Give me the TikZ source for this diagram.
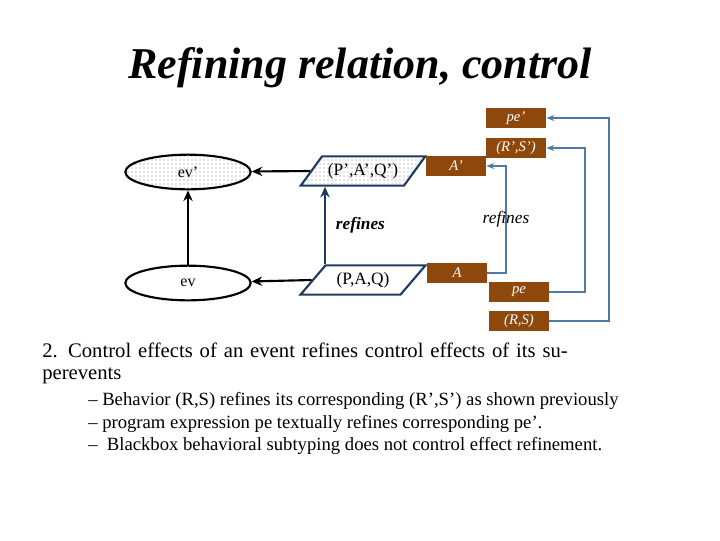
\documentclass[tikz,border=0pt]{standalone}
\usepackage{fontspec}
\setmainfont{Liberation Serif}
\usetikzlibrary{shapes.geometric,patterns,arrows.meta}
\definecolor{boxbrown}{RGB}{143,72,12}
\definecolor{linkblue}{RGB}{80,122,166}
\definecolor{edgeblue}{RGB}{31,58,96}
\begin{document}
\begin{tikzpicture}[
  x=0.75pt,y=-0.75pt,
  ev/.style={draw,ellipse,line width=1.6pt,minimum width=94pt,minimum height=26pt,font=\fontsize{12}{13}\selectfont},
  stepbox/.style={draw=edgeblue,trapezium,trapezium left angle=50,trapezium right angle=130,
    trapezium stretches=true,line width=1.6pt,minimum width=94pt,minimum height=22pt,
    font=\fontsize{13}{14}\selectfont},
  tag/.style={fill=boxbrown,text=white,minimum width=45pt,minimum height=14.5pt,inner sep=0pt,
    font=\fontsize{11}{12}\selectfont\itshape},
  dotfill/.style={pattern=dots,pattern color=gray},
  flow/.style={-{Stealth[length=8pt,width=7pt]},line width=1.6pt},
  link/.style={-{Stealth[length=6pt]},draw=linkblue,line width=1.2pt}
  ]
  \useasboundingbox (0,0) rectangle (720,540);
  \node (Title) at (360,68) {\fontsize{33}{36}\selectfont\bfseries\itshape Refining relation, control};

  \node[ev,dotfill] (EvP) at (188,172) {ev'};
  \node[ev] (Ev) at (188,283) {ev};
  \node[stepbox,dotfill] (StepP) at (363,171) {(P',A',Q')};
  \node[stepbox] (Step) at (363,280) {(P,A,Q)};

  \node[tag] (PeP) at (516,118) {pe'};
  \node[tag] (RSP) at (516,148) {(R',S')};
  \node[tag] (AP) at (456,166) {A'};
  \node[tag] (A) at (457,273) {A};
  \node[tag] (Pe) at (519,292) {pe};
  \node[tag] (RS) at (519,321) {(R,S)};

  \draw[flow] (Ev) -- (EvP);
  \draw[flow] (StepP.west) -- (EvP);
  \draw[flow] (Step.west) -- (Ev);
  \draw[flow,draw=edgeblue] (Step.north -| 325,0) -- (StepP.south -| 325,0)
    node[midway,right=4pt,text=black,font=\fontsize{13}{14}\selectfont\bfseries\itshape] (RefL) {refines};

  \draw[link] (A.east) -| (506,166) node[pos=0.75,font=\fontsize{13}{14}\selectfont\itshape] (RefR) {refines} -- (AP.east);
  \draw[link] (Pe.east) -| (585,148) -- (RSP.east);
  \draw[link] (RS.east) -| (609,118) -- (PeP.east);

  \node[anchor=north west,inner sep=0pt,text width=420pt,align=left,font=\fontsize{15.5}{16.5}\selectfont] (Point) at (42,343)
    {2. Control effects of an event refines control effects of its superevents};
  \node[anchor=north west,inner sep=0pt,font=\fontsize{14}{17}\selectfont,align=left] (Subs) at (88,392)
    {-- Behavior (R,S) refines its corresponding (R',S') as shown previously\\
     -- program expression pe textually refines corresponding pe'.\\
     --\ \ Blackbox behavioral subtyping does not control effect refinement.};
\end{tikzpicture}
\end{document}
